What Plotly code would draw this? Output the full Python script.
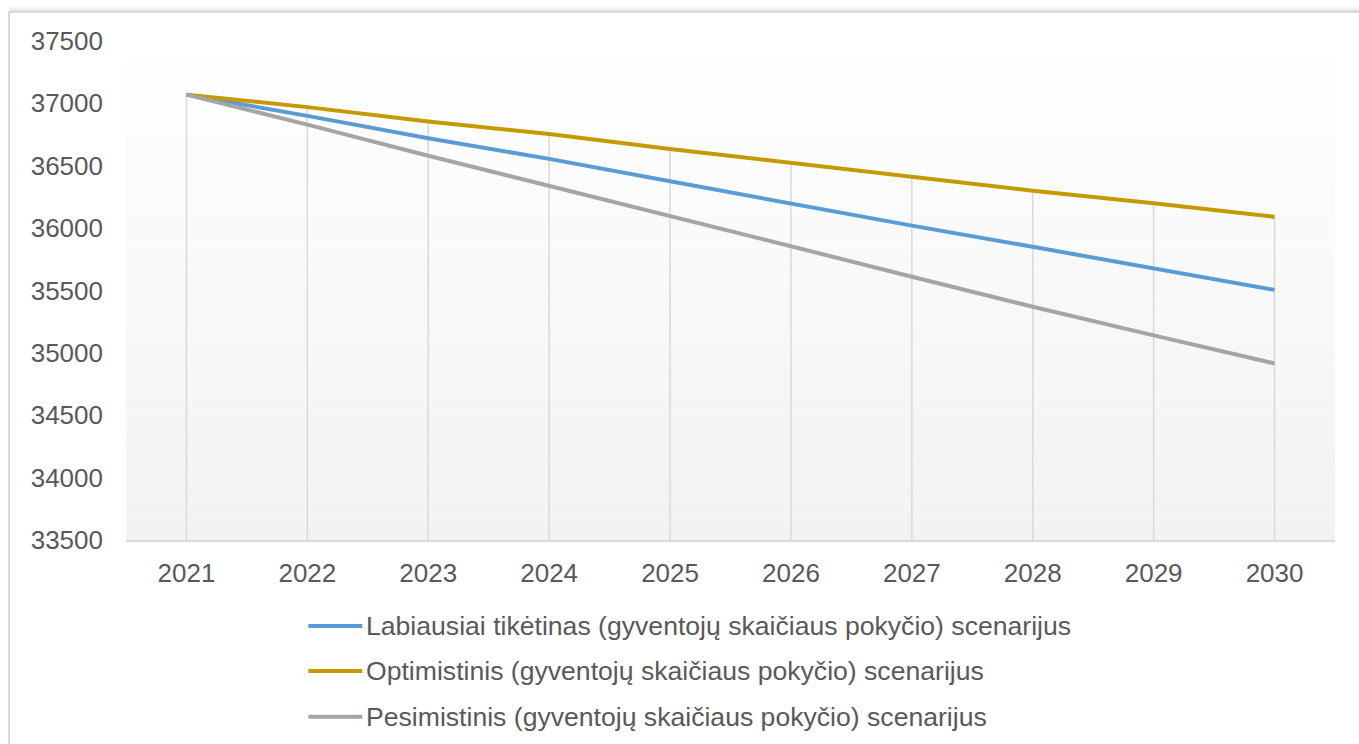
import plotly.graph_objects as go

# Data: projected population by scenario, 2021-2030
years = ["2021", "2022", "2023", "2024", "2025", "2026", "2027", "2028", "2029", "2030"]
likely = [37070, 36900, 36720, 36555, 36375, 36195, 36020, 35850, 35680, 35505]
optimistic = [37070, 36970, 36855, 36755, 36635, 36525, 36410, 36300, 36200, 36090]
pessimistic = [37070, 36830, 36580, 36340, 36095, 35855, 35610, 35370, 35140, 34915]

series_names = [
    "Labiausiai tikėtinas (gyventojų skaičiaus pokyčio) scenarijus",
    "Optimistinis (gyventojų skaičiaus pokyčio) scenarijus",
    "Pesimistinis (gyventojų skaičiaus pokyčio) scenarijus",
]
series_values = [likely, optimistic, pessimistic]
series_colors = ["#5B9BD5", "#C49A00", "#A5A5A5"]

y_min, y_max, y_step = 33500, 37500, 500

W, H = 1359, 744
PL, PR, PT, PB = 125.5, 1335.5, 40.6, 540.0
FONT = "Liberation Sans, Arial, sans-serif"
TEXT_COLOR = "#595959"


def px_x(px):
    return (px - PL) / (PR - PL)


def px_y(py):
    return (PB - py) / (PB - PT)


fig = go.Figure()

# drop lines from the highest series down to the axis
drop_x, drop_y = [], []
for i, yr in enumerate(years):
    top = max(v[i] for v in series_values)
    drop_x += [yr, yr, None]
    drop_y += [top, y_min, None]
fig.add_trace(go.Scatter(
    x=drop_x, y=drop_y, mode="lines",
    line=dict(color="#D9D9D9", width=1.5),
    hoverinfo="skip", showlegend=False,
))

for name, vals, col in zip(series_names, series_values, series_colors):
    fig.add_trace(go.Scatter(
        x=years, y=vals, mode="lines", name=name,
        line=dict(color=col, width=4), showlegend=False,
    ))

shapes = []

# vertical gradient in the plot area
n = 80
c0, c1 = (255, 255, 255), (242, 242, 242)
for k in range(n):
    t = (k + 0.5) / n
    r, g, b = (round(c0[j] + (c1[j] - c0[j]) * t) for j in range(3))
    shapes.append(dict(
        type="rect", xref="x domain", yref="y domain",
        x0=0, x1=1, y0=1 - (k + 1) / n, y1=1 - k / n,
        fillcolor=f"rgb({r},{g},{b})", line=dict(width=0), layer="below",
    ))

# outer chart frame with a soft shadow along the top edge
for k, a in enumerate([0.10, 0.07, 0.05, 0.03, 0.02]):
    shapes.append(dict(
        type="line", xref="paper", yref="paper",
        x0=px_x(8), x1=px_x(1400), y0=px_y(10 - k), y1=px_y(10 - k),
        line=dict(color=f"rgba(0,0,0,{a})", width=1),
    ))
shapes.append(dict(
    type="rect", xref="paper", yref="paper",
    x0=px_x(8.5), x1=px_x(1400), y0=px_y(11.5), y1=px_y(800),
    line=dict(color="#BFBFBF", width=1.2), fillcolor="rgba(0,0,0,0)",
))

# legend entries
annotations = []
leg_rows = [626, 671, 717]
for name, col, ry in zip(series_names, series_colors, leg_rows):
    shapes.append(dict(
        type="line", xref="paper", yref="paper",
        x0=px_x(308), x1=px_x(362), y0=px_y(ry), y1=px_y(ry),
        line=dict(color=col, width=4),
    ))
    annotations.append(dict(
        xref="paper", yref="paper", x=px_x(364), y=px_y(ry),
        xanchor="left", yanchor="middle", showarrow=False,
        text=name, font=dict(family=FONT, size=26.6, color=TEXT_COLOR),
    ))

fig.update_layout(
    width=W, height=H,
    margin=dict(l=PL, r=W - PR, t=PT, b=H - PB),
    paper_bgcolor="white", plot_bgcolor="rgba(0,0,0,0)",
    font=dict(family=FONT, size=26, color=TEXT_COLOR),
    shapes=shapes, annotations=annotations,
    showlegend=False,
    xaxis=dict(
        type="category", range=[-0.5, len(years) - 0.5],
        showgrid=False, zeroline=False,
        showline=True, linecolor="#D9D9D9", linewidth=1.5,
        ticks="", ticklabelstandoff=9,
        tickfont=dict(family=FONT, size=26, color=TEXT_COLOR),
    ),
    yaxis=dict(
        range=[y_min, y_max], tick0=y_min, dtick=y_step,
        tickformat="d", separatethousands=False,
        showgrid=False, zeroline=False, showline=False,
        ticks="", ticklabelstandoff=22,
        tickfont=dict(family=FONT, size=26, color=TEXT_COLOR),
    ),
)

fig.write_html("out.html")
